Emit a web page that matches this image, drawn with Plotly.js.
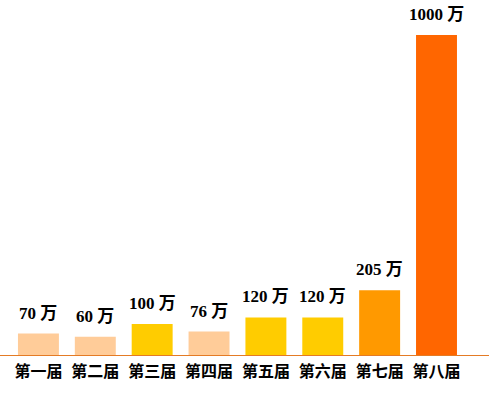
<!DOCTYPE html>
<html>
<head>
<meta charset="utf-8">
<script src="https://cdn.plot.ly/plotly-3.0.1.min.js"></script>
<style>html,body{margin:0;padding:0;background:#fff;}#chart{width:489px;height:395px;}</style>
</head>
<body>
<div id="chart"></div>
<script>
const categories = ['第一届','第二届','第三届','第四届','第五届','第六届','第七届','第八届'];
const values = [70, 60, 100, 76, 120, 120, 205, 1000];
const unit = '万';
const colors = ['#FFCC99','#FFCC99','#FFCC00','#FFCC99','#FFCC00','#FFCC00','#FF9900','#FF6600'];

const trace = {
  type: 'bar',
  x: categories,
  y: values,
  marker: {color: colors, line: {width: 0}},
  hoverinfo: 'none'
};

const annotations = categories.map((c, i) => ({
  x: c, y: values[i], xref: 'x', yref: 'y',
  text: '<b>' + values[i] + ' ' + unit + '</b>',
  showarrow: false, yanchor: 'bottom', yshift: 9,
  font: {family: 'Liberation Serif, Noto Sans CJK SC, serif', size: 17, color: '#000'}
}));

const layout = {
  width: 489, height: 395,
  margin: {l: 10, r: 23, t: 6, b: 39},
  paper_bgcolor: '#fff', plot_bgcolor: '#fff',
  bargap: 0.28,
  showlegend: false,
  xaxis: {
    showgrid: false, zeroline: false, showline: false, ticks: '',
    ticklabelstandoff: 4,
    tickfont: {family: 'Noto Sans CJK SC, sans-serif', size: 16, color: '#000', weight: 'bold'},
    fixedrange: true
  },
  yaxis: {
    range: [0, 1090], visible: false, showgrid: false, zeroline: false, fixedrange: true
  },
  shapes: [{
    type: 'line', xref: 'paper', yref: 'y', x0: -0.05, x1: 1.1, y0: 0, y1: 0,
    line: {color: '#E47B25', width: 2}
  }],
  annotations: annotations
};

Plotly.newPlot('chart', [trace], layout, {displayModeBar: false, staticPlot: true});
</script>
</body>
</html>
